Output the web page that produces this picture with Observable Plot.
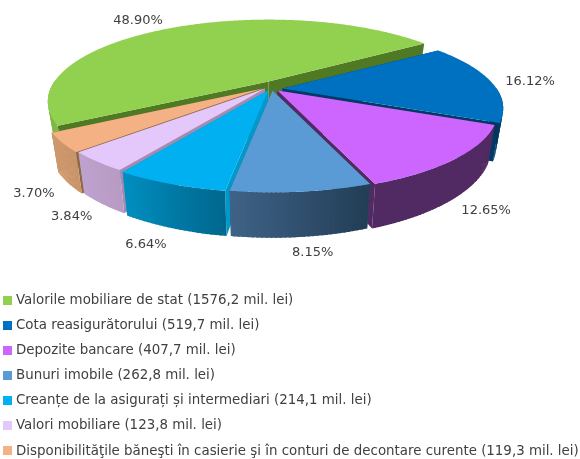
<!DOCTYPE html>
<html>
<head>
<meta charset="utf-8">
<script src="https://cdn.jsdelivr.net/npm/d3@7"></script>
<script src="https://cdn.jsdelivr.net/npm/@observablehq/plot@0.6"></script>
<style>
html,body{margin:0;padding:0;background:#fff;overflow:hidden;width:580px;height:459px}
#chart svg{display:block;filter:blur(0.35px)}
#legend{font:13.38px "DejaVu Sans",sans-serif;color:#404040;white-space:nowrap;filter:blur(0.3px)}
.row{height:16px;line-height:16px;margin-bottom:9.1px;position:relative;padding-left:16px}
.row:last-child{margin-bottom:0}
.sw{position:absolute;left:3px;top:3.5px;width:9px;height:9px}
</style>
</head>
<body>
<div id="chart"></div>
<div id="legend"></div>
<script>
// Data, in chart order
const categories = [
  "Valorile mobiliare de stat",
  "Cota reasigurătorului",
  "Depozite bancare",
  "Bunuri imobile",
  "Creanțe de la asigurați și intermediari",
  "Valori mobiliare",
  "Disponibilităţile băneşti în casierie şi în conturi de decontare curente"
];
const values = [1576.2, 519.7, 407.7, 262.8, 214.1, 123.8, 119.3];
const percentLabels = ["48.90%", "16.12%", "12.65%", "8.15%", "6.64%", "3.84%", "3.70%"];

// Styles
const topColors = ["#92d050", "#0070c0", "#cc66ff", "#5b9bd5", "#00b0f0", "#e5c8fb", "#f4b183"];
const wallFrom  = ["#80b645", "#00365f", "#522a63", "#3f6388", "#0090c2", "#bfa3cf", "#d39c70"];
const wallTo    = ["#80b645", "#00365f", "#522a63", "#233e56", "#00688f", "#b79bc4", "#c8946a"];
const cutColors = ["#4f7a23", "#003a66", "#522a63", "#2f5478", "#0099cc", "#a58bb0", "#8f6844"];

// Pie projection (rx = 1 unit)
const RX = 214, K = 77 / 214, P = 0.244, CX = 272, CY = 88, H = 292;
const START = 149.8;
const shifts = [[-4,-7],[10,0],[5,2],[0,2],[-4.5,2],[-7.5,0],[-10,0]];
const labelNudges = [[-36,-8],[39,-1],[30,51],[11,60],[-24,60],[-25.5,54],[-28,50]];
const BOTTOM_SX = 0.97, BOTTOM_SY = 1.1, DEPTH = 35 / RX;
const drawOrder = [0, 6, 5, 4, 1, 2, 3];

const total = d3.sum(values);
let acc = START;
const spans = values.map(v => { const a0 = acc; acc += v / total * 360; return [a0, acc]; });

function topPt(deg, i, r = 1) {
  const t = deg * Math.PI / 180, u = r * Math.cos(t), v = r * Math.sin(t), s = 1 / (1 - P * v);
  return [u * s + shifts[i][0] / RX, K * v * s + shifts[i][1] / RX];
}
const bottomPt = ([x, y]) => [x * BOTTOM_SX, y * BOTTOM_SY + DEPTH];

const polys = [];
let id = 0;
function addPoly(points, color) {
  const key = id++;
  for (const [x, y] of points) polys.push({x, y, key, color});
}
for (const i of drawOrder) {
  const [a0, a1] = spans[i];
  const apex = topPt(0, i, 0);
  for (const a of [a0, a1]) {
    const o = topPt(a, i);
    addPoly([apex, o, bottomPt(o), bottomPt(apex)], cutColors[i]);
  }
  const n = Math.max(24, Math.ceil(a1 - a0));
  const mix = d3.interpolateRgb(wallFrom[i], wallTo[i]);
  // Only the arc turned towards the viewer shows a wall; strips overlap so no seam appears.
  for (let j = n - 1; j >= 0; j--) {
    const a = a0 + (a1 - a0) * j / n, b = a0 + (a1 - a0) * Math.min(n, j + 1.6) / n;
    if (Math.sin(a * Math.PI / 180) < 0 && Math.sin(b * Math.PI / 180) < 0) continue;
    const p = topPt(a, i), q = topPt(b, i);
    addPoly([p, q, bottomPt(q), bottomPt(p)], mix(1 - (j + .5) / n));
  }
  const face = [apex];
  for (let j = 0; j <= n * 2; j++) face.push(topPt(a0 + (a1 - a0) * j / (n * 2), i));
  addPoly(face, topColors[i]);
}

const labels = values.map((v, i) => {
  const [x, y] = topPt((spans[i][0] + spans[i][1]) / 2, i);
  return {x: x + labelNudges[i][0] / RX, y: y + labelNudges[i][1] / RX, text: percentLabels[i]};
});

const chart = Plot.plot({
  width: 580, height: H, margin: 0,
  x: {domain: [-CX / RX, (580 - CX) / RX], range: [0, 580], axis: null},
  y: {domain: [-CY / RX, (H - CY) / RX], range: [0, H], axis: null},
  color: {type: "identity"},
  style: {background: "#fff"},
  marks: [
    Plot.line(polys, {x: "x", y: "y", z: "key", fill: "color", stroke: "none", curve: "linear-closed"}),
    Plot.text(labels, {x: "x", y: "y", text: "text", fontSize: 13, fontFamily: "DejaVu Sans", fill: "#404040"})
  ]
});
document.getElementById("chart").append(chart);

const legend = document.getElementById("legend");
categories.forEach((c, i) => {
  const row = document.createElement("div");
  row.className = "row";
  const sw = document.createElement("span");
  sw.className = "sw";
  sw.style.background = topColors[i];
  row.append(sw, `${c} (${values[i].toFixed(1).replace(".", ",")} mil. lei)`);
  legend.append(row);
});
</script>
</body>
</html>
